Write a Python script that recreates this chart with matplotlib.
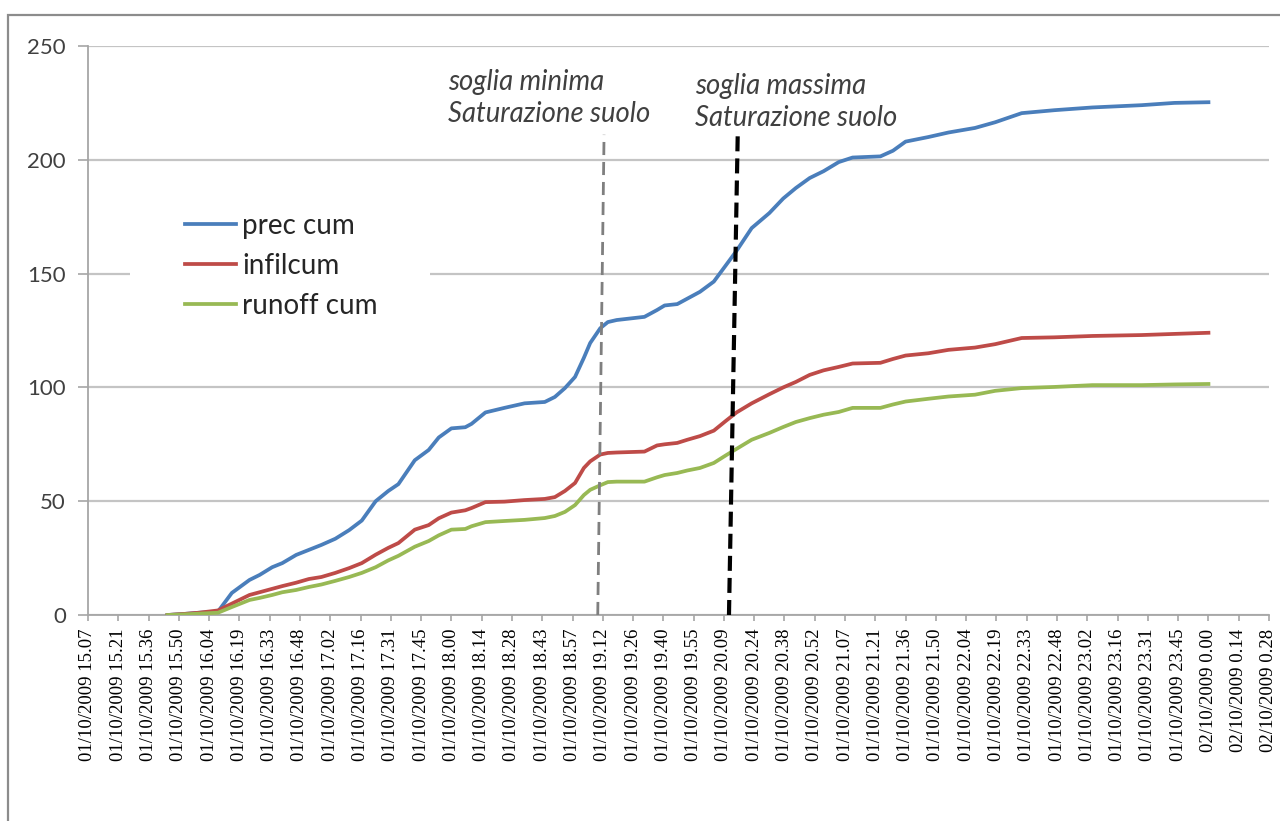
import matplotlib
matplotlib.use("Agg")
import matplotlib.pyplot as plt
from matplotlib.patches import Rectangle

# time in decimal hours from 01/10/2009 00:00 (24.00 = 02/10/2009 0.00)
ore = [15.75, 15.89, 16.00, 16.15, 16.26, 16.40, 16.48, 16.58, 16.66, 16.77,
       16.87, 16.97, 17.08, 17.19, 17.29, 17.40, 17.50, 17.58, 17.71, 17.82,
       17.90, 18.00, 18.11, 18.16, 18.27, 18.42, 18.58, 18.74, 18.82, 18.90,
       18.98, 19.05, 19.10, 19.18, 19.24, 19.31, 19.53, 19.63, 19.69, 19.79,
       19.87, 19.97, 20.08, 20.18, 20.26, 20.38, 20.52, 20.63, 20.73, 20.84,
       20.95, 21.07, 21.18, 21.40, 21.50, 21.60, 21.78, 21.94, 22.15, 22.31,
       22.52, 22.78, 23.08, 23.47, 23.73, 24.00]

prec_cum = [0, 0.5, 1, 1.5, 9.7, 15.4, 17.6, 21, 22.8, 26.4,
            28.6, 30.8, 33.5, 37.3, 41.5, 50, 54.5, 57.5, 68, 72.5,
            78, 82, 82.5, 84, 89, 91, 93, 93.6, 95.8, 99.7,
            104.6, 113, 119.5, 126, 128.7, 129.6, 131, 134, 136, 136.6,
            139, 142, 146.5, 154, 160, 170, 176.6, 183, 187.6, 192,
            195, 199, 201, 201.5, 204, 208, 210, 212, 214, 216.5,
            220.5, 221.8, 223, 224, 225, 225.3]

infil_cum = [0, 0.5, 1, 2, 5, 8.8, 10, 11.5, 12.7, 14.2,
             15.8, 16.7, 18.5, 20.6, 22.8, 26.5, 29.5, 31.6, 37.5, 39.5,
             42.5, 45, 46, 47, 49.6, 49.8, 50.5, 51, 51.8, 54.5,
             58, 64.6, 67.5, 70.5, 71.2, 71.4, 71.8, 74.5, 75, 75.6,
             77, 78.6, 81, 85.5, 89, 93, 97, 100, 102.4, 105.5,
             107.5, 109, 110.5, 110.8, 112.5, 114, 115, 116.5, 117.5, 119,
             121.7, 122, 122.6, 123, 123.5, 124]

runoff_cum = [0, 0.3, 0.6, 1, 3.5, 6.6, 7.5, 8.8, 10, 11,
              12.3, 13.4, 15, 16.7, 18.5, 21, 24, 26, 30, 32.5,
              35, 37.5, 37.8, 39, 40.8, 41.3, 41.8, 42.6, 43.5, 45.3,
              48.3, 52.7, 55, 57, 58.4, 58.6, 58.6, 60.5, 61.5, 62.4,
              63.5, 64.6, 66.8, 70.3, 73, 77, 80, 82.6, 84.8, 86.5,
              88, 89.2, 91, 91, 92.5, 93.8, 95, 96, 96.8, 98.5,
              99.7, 100.2, 101, 101, 101.3, 101.5]

# category labels every 0.01 day (0.24 h) starting 15:07:12
etichette = ["01/10/2009 15.07", "01/10/2009 15.21", "01/10/2009 15.36", "01/10/2009 15.50",
             "01/10/2009 16.04", "01/10/2009 16.19", "01/10/2009 16.33", "01/10/2009 16.48",
             "01/10/2009 17.02", "01/10/2009 17.16", "01/10/2009 17.31", "01/10/2009 17.45",
             "01/10/2009 18.00", "01/10/2009 18.14", "01/10/2009 18.28", "01/10/2009 18.43",
             "01/10/2009 18.57", "01/10/2009 19.12", "01/10/2009 19.26", "01/10/2009 19.40",
             "01/10/2009 19.55", "01/10/2009 20.09", "01/10/2009 20.24", "01/10/2009 20.38",
             "01/10/2009 20.52", "01/10/2009 21.07", "01/10/2009 21.21", "01/10/2009 21.36",
             "01/10/2009 21.50", "01/10/2009 22.04", "01/10/2009 22.19", "01/10/2009 22.33",
             "01/10/2009 22.48", "01/10/2009 23.02", "01/10/2009 23.16", "01/10/2009 23.31",
             "01/10/2009 23.45", "02/10/2009 0.00", "02/10/2009 0.14", "02/10/2009 0.28"]
tick_ore = [15.12 + 0.24 * i for i in range(len(etichette))]

# soil saturation thresholds (bottom, top of the marker)
soglia_min = (19.16, 19.21)
soglia_max = (20.20, 20.27)

fig = plt.figure(figsize=(12.8, 8.21), dpi=100)
ax = fig.add_axes([88 / 1280, 206 / 821, 1181 / 1280, 569 / 821])

# outer chart border
fig.patches.append(Rectangle((8 / 1280, -0.05), 1.2, 1.05 - 15 / 821,
                             transform=fig.transFigure, fill=False,
                             edgecolor="#8c8c8c", linewidth=1.6))

ax.set_xlim(tick_ore[0], tick_ore[-1])
ax.set_ylim(0, 250)
ax.set_yticks([0, 50, 100, 150, 200, 250])
ax.set_xticks(tick_ore)
ax.set_xticklabels(etichette, rotation=90, fontfamily="Liberation Serif",
                   fontsize=13.5, color="black")
for lab in ax.get_yticklabels():
    lab.set_fontfamily("Lato")
    lab.set_fontsize(16)
    lab.set_color("#404040")

ax.grid(axis="y", color="#c4c4c4", linewidth=1.6)
ax.set_axisbelow(True)
for s in ["top", "right"]:
    ax.spines[s].set_visible(False)
for s in ["left", "bottom"]:
    ax.spines[s].set_color("#a6a6a6")
    ax.spines[s].set_linewidth(1.3)
ax.tick_params(axis="y", length=7, width=1.2, color="#a6a6a6", pad=9)
ax.tick_params(axis="x", length=4, width=1.2, color="#a6a6a6", pad=6)

# white legend background hiding the gridline
ax.add_patch(Rectangle((0.0354, 0.47), 0.254, 0.30, transform=ax.transAxes,
                       facecolor="white", edgecolor="none", zorder=1.5))

ax.plot(ore, prec_cum, color="#4a7ebb", lw=2.7, label="prec cum", zorder=3)
ax.plot(ore, infil_cum, color="#be4b48", lw=2.7, label="infilcum", zorder=3)
ax.plot(ore, runoff_cum, color="#98b954", lw=2.7, label="runoff cum", zorder=3)

ax.plot(soglia_min, [0, 211], color="#7f7f7f", lw=2, dashes=(4.7, 2.5), zorder=4)
ax.plot(soglia_max, [0, 213], color="black", lw=3, dashes=(3.6, 1.7), zorder=4)

ax.text(17.97, 227, "soglia minima\nSaturazione suolo", fontfamily="Lato",
        style="italic", fontsize=19.8, color="#404040", va="center", ha="left",
        linespacing=1.3)
ax.text(19.93, 225.4, "soglia massima\nSaturazione suolo", fontfamily="Lato",
        style="italic", fontsize=19.8, color="#404040", va="center", ha="left",
        linespacing=1.3)

leg = ax.legend(loc="upper left", bbox_to_anchor=((185 - 88) / 1181, (615 - 213) / 569),
                frameon=False, borderpad=0, borderaxespad=0, handlelength=1.85,
                handletextpad=0.2, labelspacing=0.5, prop={"family": "Lato", "size": 20})
for t in leg.get_texts():
    t.set_color("#262626")

fig.savefig("out.png", dpi=100)
